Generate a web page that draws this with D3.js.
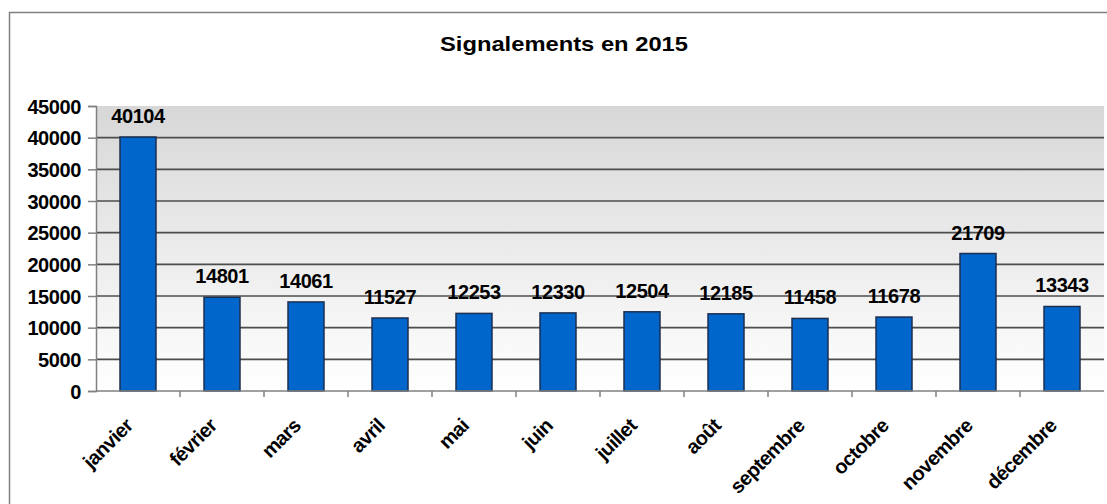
<!DOCTYPE html>
<html>
<head>
<meta charset="utf-8">
<script src="https://cdn.jsdelivr.net/npm/d3@7"></script>
<style>
  html, body { margin: 0; padding: 0; background: #fff; overflow: hidden; }
  text { font-family: "Liberation Sans", Arial, sans-serif; font-weight: bold; fill: #000; }
</style>
</head>
<body>
<div id="chart"></div>
<script>
const months = ['janvier', 'février', 'mars', 'avril', 'mai', 'juin', 'juillet', 'août',
  'septembre', 'octobre', 'novembre', 'décembre'];
const signalements = [40104, 14801, 14061, 11527, 12253, 12330, 12504, 12185, 11458, 11678, 21709, 13343];
const yTicks = [0, 5000, 10000, 15000, 20000, 25000, 30000, 35000, 40000, 45000];
const title = 'Signalements en 2015';

const W = 1107, H = 504;
const margin = { top: 106, left: 96, right: 3, bottom: 113 };
const width = W - margin.left - margin.right;
const height = H - margin.top - margin.bottom;

const svg = d3.select('#chart').append('svg')
  .attr('width', W).attr('height', H);

// outer chart frame (right and bottom fall outside the picture)
svg.append('rect')
  .attr('x', 9.5).attr('y', 12.5)
  .attr('width', W + 20).attr('height', H + 20)
  .attr('fill', '#fff').attr('stroke', '#808080').attr('stroke-width', 1.5);

svg.append('text')
  .attr('x', 564).attr('y', 51)
  .attr('text-anchor', 'middle')
  .attr('textLength', 248).attr('lengthAdjust', 'spacingAndGlyphs')
  .style('font-size', '21px')
  .text(title);

const defs = svg.append('defs');
const grad = defs.append('linearGradient')
  .attr('id', 'bg').attr('x1', 0).attr('y1', 0).attr('x2', 0).attr('y2', 1);
grad.append('stop').attr('offset', '0%').attr('stop-color', '#d7d7d7');
grad.append('stop').attr('offset', '100%').attr('stop-color', '#ffffff');

const g = svg.append('g').attr('transform', `translate(${margin.left},${margin.top})`);

const x = d3.scaleBand().domain(months).range([0, width]).paddingInner(0).paddingOuter(0);
const y = d3.scaleLinear().domain([0, 45000]).range([height, 0]);

g.append('rect')
  .attr('width', width).attr('height', height)
  .attr('fill', 'url(#bg)');

// gridlines
g.append('g')
  .selectAll('line')
  .data(yTicks.filter(d => d > 0 && d < 45000))
  .enter().append('line')
  .attr('x1', 0).attr('x2', width)
  .attr('y1', d => y(d)).attr('y2', d => y(d))
  .attr('stroke', '#4d4d4d').attr('stroke-width', 1.6);

// y axis
const yAxis = g.append('g')
  .call(d3.axisLeft(y).tickValues(yTicks).tickSize(8).tickPadding(7).tickFormat(d3.format('d')));
yAxis.select('.domain').attr('stroke', '#808080').attr('stroke-width', 1.5);
yAxis.selectAll('.tick line').attr('stroke', '#808080').attr('stroke-width', 1.5);
yAxis.selectAll('text')
  .attr('dy', '0.36em')
  .style('font-size', '20px')
  .style('font-family', '"Liberation Sans", Arial, sans-serif')
  .style('font-weight', 'bold')
  .style('letter-spacing', '-0.4px');

// bars
const bw = 36;
g.selectAll('rect.bar')
  .data(signalements)
  .enter().append('rect')
  .attr('class', 'bar')
  .attr('x', (d, i) => x(months[i]) + x.bandwidth() / 2 - bw / 2)
  .attr('y', d => y(d))
  .attr('width', bw)
  .attr('height', d => height - y(d))
  .attr('fill', '#0066cc')
  .attr('stroke', '#1c2f4f').attr('stroke-width', 1.5);

// value labels
g.selectAll('text.val')
  .data(signalements)
  .enter().append('text')
  .attr('class', 'val')
  .attr('x', (d, i) => x(months[i]) + x.bandwidth() / 2)
  .attr('y', d => y(d) - 14)
  .attr('text-anchor', 'middle')
  .style('font-size', '20px')
  .style('letter-spacing', '-0.4px')
  .text(d => d);

// x axis
const xAxisG = g.append('g').attr('transform', `translate(0,${height})`);
xAxisG.append('line')
  .attr('x1', 0).attr('x2', width)
  .attr('stroke', '#808080').attr('stroke-width', 1.5);
xAxisG.selectAll('line.tk')
  .data(months.slice(1))
  .enter().append('line')
  .attr('class', 'tk')
  .attr('x1', d => x(d)).attr('x2', d => x(d))
  .attr('y1', 0).attr('y2', 6)
  .attr('stroke', '#808080').attr('stroke-width', 1.5);
xAxisG.selectAll('text')
  .data(months)
  .enter().append('text')
  .attr('transform', d => `translate(${x(d) + x.bandwidth() / 2 - 4},${36}) rotate(-45)`)
  .attr('text-anchor', 'end')
  .style('font-size', '20px')
  .style('letter-spacing', '-0.6px')
  .text(d => d);
</script>
</body>
</html>
